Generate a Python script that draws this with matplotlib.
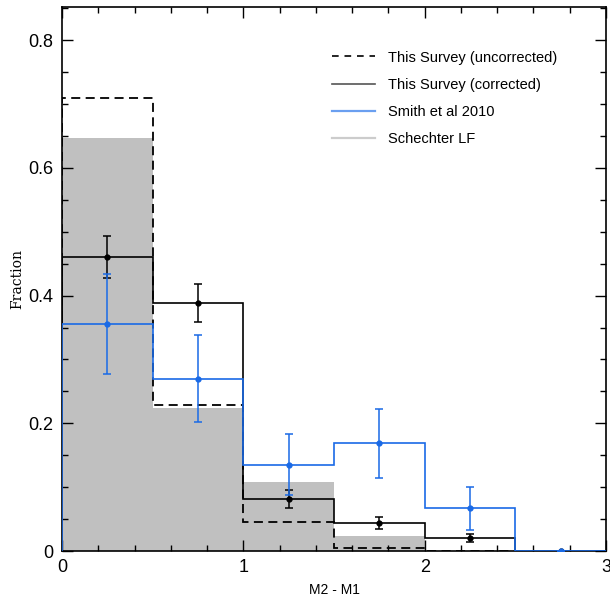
import matplotlib
matplotlib.use("Agg")
import matplotlib.pyplot as plt
from matplotlib.lines import Line2D
from matplotlib.ticker import MultipleLocator
import numpy as np

# Magnitude-gap bins (M2 - M1)
bin_edges = [0.0, 0.5, 1.0, 1.5, 2.0, 2.5, 3.0]
bin_centers = [0.25, 0.75, 1.25, 1.75, 2.25, 2.75]

# Fractions per bin
uncorrected = [0.709, 0.229, 0.045, 0.005, 0.0, 0.0]
corrected = [0.460, 0.388, 0.081, 0.044, 0.020, 0.0]
corrected_err = [0.033, 0.030, 0.014, 0.010, 0.006, 0.0]
smith2010 = [0.356, 0.270, 0.135, 0.169, 0.067, 0.0]
smith2010_err = [0.078, 0.068, 0.048, 0.054, 0.034, 0.0]
schechter = [0.647, 0.2235, 0.1086, 0.0235, 0.0, 0.0]

blue = "#1a6ae6"
grey = "#c0c0c0"

fig = plt.figure(figsize=(6.10, 5.99), dpi=100)
ax = fig.add_axes([0.1016, 0.0801, 0.8918, 0.9082])

# Schechter LF prediction as filled bars
ax.stairs(schechter, bin_edges, fill=True, color=grey, baseline=0, zorder=1)

# Observed distributions
ax.stairs(uncorrected, bin_edges, baseline=0, color="black", lw=1.3,
          linestyle=(0, (5, 3)), zorder=3)
ax.stairs(corrected, bin_edges, baseline=0, color="black", lw=1.2, zorder=4)
ax.stairs(smith2010, bin_edges, baseline=0, color=blue, lw=1.2, zorder=5)

ax.errorbar(bin_centers, corrected, yerr=corrected_err, fmt="o", color="black",
            ms=3.5, capsize=3, elinewidth=1.1, capthick=1.1, zorder=6)
ax.errorbar(bin_centers, smith2010, yerr=smith2010_err, fmt="o", color=blue,
            ms=3.5, capsize=3, elinewidth=1.1, capthick=1.1, zorder=7)

ax.set_xlim(0, 3)
ax.set_ylim(0, 0.852)
ax.xaxis.set_major_locator(MultipleLocator(1))
ax.xaxis.set_minor_locator(MultipleLocator(0.2))
ax.yaxis.set_major_locator(MultipleLocator(0.2))
ax.yaxis.set_minor_locator(MultipleLocator(0.05))
ax.xaxis.set_major_formatter(plt.FuncFormatter(lambda v, p: f"{v:g}"))
ax.yaxis.set_major_formatter(plt.FuncFormatter(lambda v, p: "0" if v == 0 else f"{v:.1f}"))

ax.tick_params(which="both", direction="in", top=True, right=True,
               width=1.0, labelsize=13, labelfontfamily="Liberation Sans")
ax.tick_params(which="major", length=8, pad=6)
ax.tick_params(which="minor", length=4.5)
for sp in ax.spines.values():
    sp.set_linewidth(1.2)

ax.set_xlabel("M2 - M1", family="Liberation Sans", fontsize=10)
ax.xaxis.set_label_coords(0.5, -0.059)
ax.set_ylabel("Fraction", family="DejaVu Serif", fontsize=10, labelpad=3)

handles = [
    Line2D([], [], color="black", lw=1.2, linestyle=(0, (4, 3.5))),
    Line2D([], [], color="#555555", lw=1.2),
    Line2D([], [], color="#6a9ff0", lw=1.6),
    Line2D([], [], color="#cccccc", lw=1.6),
]
labels = ["This Survey (uncorrected)", "This Survey (corrected)",
          "Smith et al 2010", "Schechter LF"]
ax.legend(handles, labels, loc="upper left", bbox_to_anchor=(0.472, 0.944),
          frameon=False, prop={"family": "Liberation Sans", "size": 10.5},
          handlelength=2.95, handletextpad=0.9, labelspacing=0.9)

fig.savefig("out.png", dpi=100)
